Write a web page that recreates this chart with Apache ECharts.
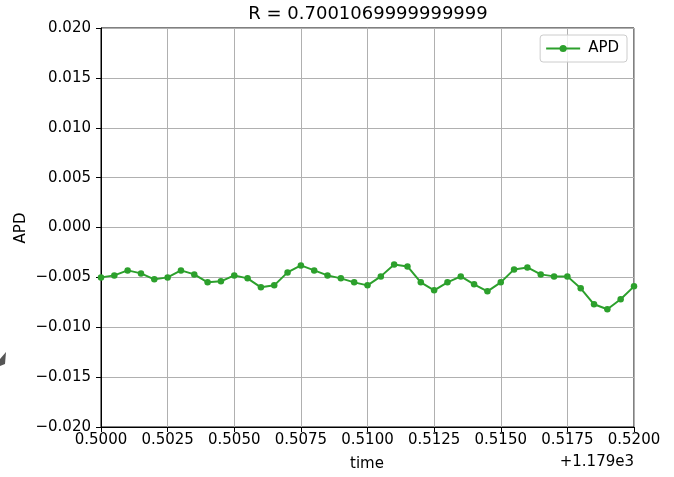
<!DOCTYPE html>
<html>
<head>
<meta charset="utf-8">
<script src="https://cdn.jsdelivr.net/npm/echarts@6/dist/echarts.min.js"></script>
<style>html,body{margin:0;padding:0;background:#fff}#c{width:674px;height:477px}</style>
</head>
<body>
<div id="c"></div>
<script>
// time values are shown relative to the axis offset (+1.179e3)
var OFFSET_TEXT = '+1.179e3';
var TITLE = 'R = 0.7001069999999999';
var SERIES_NAME = 'APD';
var time = [0.5000,0.5005,0.5010,0.5015,0.5020,0.5025,0.5030,0.5035,0.5040,0.5045,
            0.5050,0.5055,0.5060,0.5065,0.5070,0.5075,0.5080,0.5085,0.5090,0.5095,
            0.5100,0.5105,0.5110,0.5115,0.5120,0.5125,0.5130,0.5135,0.5140,0.5145,
            0.5150,0.5155,0.5160,0.5165,0.5170,0.5175,0.5180,0.5185,0.5190,0.5195,0.5200];
var apd = [-0.0050,-0.0048,-0.0043,-0.0046,-0.0052,-0.0050,-0.0043,-0.0047,-0.0055,-0.0054,
           -0.0048,-0.0051,-0.0060,-0.0058,-0.0045,-0.0038,-0.0043,-0.0048,-0.0051,-0.0055,
           -0.0058,-0.0049,-0.0037,-0.0039,-0.0055,-0.0063,-0.0055,-0.0049,-0.0057,-0.0064,
           -0.0055,-0.0042,-0.0040,-0.0047,-0.0049,-0.0049,-0.0061,-0.0077,-0.0082,-0.0072,-0.0059];
var yTicks = [-0.020,-0.015,-0.010,-0.005,0.000,0.005,0.010,0.015,0.020];

var FONT = 'DejaVu Sans';
var chart = echarts.init(document.getElementById('c'), null, {renderer:'canvas'});
var data = time.map(function(t,i){return [t, apd[i]];});
var axisCommon = {
  axisLine:{show:true, onZero:false, lineStyle:{color:'#000', width:1}},
  axisTick:{show:true, inside:false, length:5, lineStyle:{color:'#000', width:1}},
  splitLine:{show:true, lineStyle:{color:'#b0b0b0', width:1}},
  axisLabel:{color:'#000', fontFamily:FONT, fontSize:15}
};
chart.setOption({
  animation:false,
  backgroundColor:'#fff',
  graphic:[
    {type:'text', x:368, y:14, style:{text:TITLE, fill:'#000', font:'18px "DejaVu Sans"', textAlign:'center', textVerticalAlign:'middle'}},
    {type:'text', x:367, y:464, style:{text:'time', fill:'#000', font:'15px "DejaVu Sans"', textAlign:'center', textVerticalAlign:'middle'}},
    {type:'text', x:634, y:462, style:{text:OFFSET_TEXT, fill:'#000', font:'15px "DejaVu Sans"', textAlign:'right', textVerticalAlign:'middle'}},
    {type:'text', x:21, y:228, rotation:Math.PI/2, style:{text:'APD', fill:'#000', font:'15px "DejaVu Sans"', textAlign:'center', textVerticalAlign:'middle'}},
    {type:'polygon', shape:{points:[[0,359],[6,352],[5,364],[0,366]]}, style:{fill:'#555'}}
  ],
  grid:{left:101, right:40, top:28, bottom:50, containLabel:false, show:true, borderColor:'#000', borderWidth:1},
  legend:{data:[SERIES_NAME], right:47, top:35, orient:'vertical',
    borderColor:'#cccccc', borderWidth:1, borderRadius:3, padding:[6,8,6,5],
    backgroundColor:'rgba(255,255,255,0.8)',
    itemWidth:34, itemHeight:9, itemGap:5,
    textStyle:{fontFamily:FONT, fontSize:15, color:'#000', padding:[0,0,0,3]}},
  xAxis:Object.assign({}, axisCommon, {
    type:'value', min:0.5, max:0.52, interval:0.0025,
    axisLabel:Object.assign({}, axisCommon.axisLabel, {margin:6,
      formatter:function(v){return v.toFixed(4);}})
  }),
  yAxis:Object.assign({}, axisCommon, {
    type:'value', min:yTicks[0], max:yTicks[yTicks.length-1], interval:0.005,
    axisLabel:Object.assign({}, axisCommon.axisLabel, {margin:10,
      formatter:function(v){var s=Math.abs(v).toFixed(3); return (v < -1e-9 ? '\u2212' : '') + s;}})
  }),
  series:[{
    name:SERIES_NAME, type:'line', data:data,
    lineStyle:{color:'#2ca02c', width:2},
    itemStyle:{color:'#2ca02c'},
    symbol:'circle', symbolSize:6.5, showSymbol:true
  }]
});
</script>
</body>
</html>
